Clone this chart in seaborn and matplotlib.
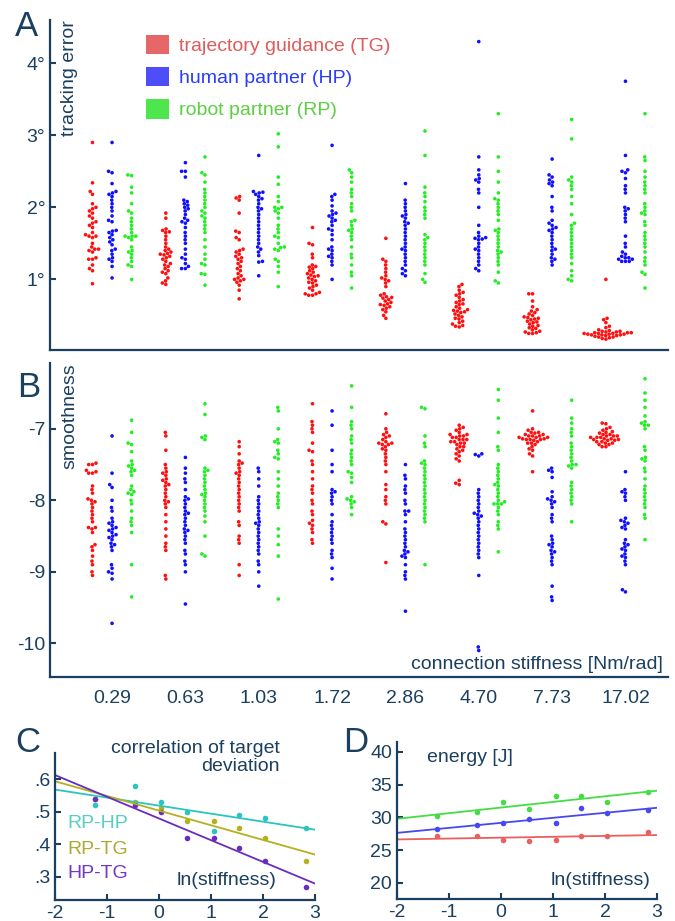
import numpy as np
import pandas as pd
import matplotlib
matplotlib.use('Agg')
import matplotlib.pyplot as plt
from matplotlib.patches import Patch
import seaborn as sns

# Figure geometry
W, H, DPI = 675, 921, 100
FONTSIZE = 14
NAVY = '#1b3f5f'

# Conditions / groups
stiffness = ['0.29', '0.63', '1.03', '1.72', '2.86', '4.70', '7.73', '17.02']
groups = ['TG', 'HP', 'RP']
group_names = ['trajectory guidance (TG)', 'human partner (HP)', 'robot partner (RP)']

# Panel A: tracking error [deg], one list per stiffness
err_tg = [
    [2.9, 2.34, 2.22, 2.18, 2.05, 2.0, 1.98, 1.95, 1.92, 1.88, 1.85, 1.8, 1.78, 1.75, 1.72, 1.65, 1.62, 1.6, 1.6, 1.58, 1.5, 1.45, 1.42, 1.42, 1.4, 1.38, 1.3, 1.28, 1.28, 1.2, 1.15, 1.12, 0.94],
    [1.92, 1.85, 1.7, 1.68, 1.66, 1.65, 1.6, 1.55, 1.5, 1.45, 1.42, 1.4, 1.38, 1.36, 1.35, 1.34, 1.32, 1.3, 1.28, 1.25, 1.22, 1.2, 1.18, 1.15, 1.12, 1.1, 1.08, 1.02, 0.98, 0.95, 0.93],
    [2.15, 2.13, 2.1, 1.92, 1.67, 1.65, 1.58, 1.55, 1.42, 1.4, 1.38, 1.35, 1.32, 1.3, 1.28, 1.25, 1.22, 1.18, 1.15, 1.12, 1.08, 1.05, 1.02, 1.0, 1.0, 0.98, 0.96, 0.92, 0.85, 0.73],
    [1.72, 1.5, 1.48, 1.35, 1.3, 1.2, 1.18, 1.17, 1.15, 1.12, 1.1, 1.08, 1.06, 1.05, 1.04, 1.02, 1.0, 0.98, 0.96, 0.95, 0.92, 0.9, 0.88, 0.85, 0.82, 0.8, 0.78, 0.78, 0.8],
    [1.57, 1.28, 1.25, 1.2, 1.15, 1.1, 1.05, 1.02, 1.0, 0.98, 0.95, 0.9, 0.8, 0.78, 0.76, 0.75, 0.74, 0.72, 0.7, 0.68, 0.66, 0.65, 0.64, 0.62, 0.6, 0.58, 0.55, 0.5, 0.46],
    [0.93, 0.9, 0.85, 0.82, 0.8, 0.78, 0.75, 0.72, 0.7, 0.68, 0.66, 0.65, 0.62, 0.6, 0.58, 0.57, 0.56, 0.55, 0.54, 0.52, 0.5, 0.48, 0.46, 0.45, 0.42, 0.4, 0.38, 0.36, 0.35, 0.34],
    [0.8, 0.8, 0.7, 0.62, 0.58, 0.56, 0.54, 0.52, 0.5, 0.48, 0.47, 0.46, 0.45, 0.44, 0.42, 0.41, 0.4, 0.38, 0.36, 0.35, 0.33, 0.32, 0.3, 0.28, 0.27, 0.26, 0.25, 0.25],
    [1.0, 0.46, 0.44, 0.4, 0.35, 0.33, 0.3, 0.29, 0.28, 0.28, 0.27, 0.27, 0.26, 0.26, 0.26, 0.25, 0.25, 0.25, 0.24, 0.24, 0.24, 0.23, 0.23, 0.23, 0.22, 0.22, 0.21, 0.2, 0.2, 0.19, 0.18, 0.17],
]
err_hp = [
    [2.9, 2.5, 2.48, 2.33, 2.22, 2.2, 2.18, 2.15, 2.1, 2.05, 2.0, 1.95, 1.88, 1.82, 1.8, 1.68, 1.67, 1.65, 1.62, 1.58, 1.55, 1.52, 1.48, 1.42, 1.4, 1.35, 1.3, 1.28, 1.25, 1.18, 1.02],
    [2.62, 2.5, 2.5, 2.42, 2.1, 2.08, 2.05, 2.03, 2.0, 1.98, 1.95, 1.9, 1.85, 1.82, 1.8, 1.78, 1.72, 1.65, 1.6, 1.55, 1.5, 1.42, 1.35, 1.3, 1.28, 1.22, 1.18, 1.15, 1.15],
    [2.72, 2.22, 2.21, 2.2, 2.18, 2.15, 2.12, 2.1, 2.05, 2.0, 1.98, 1.95, 1.9, 1.85, 1.8, 1.75, 1.7, 1.65, 1.6, 1.55, 1.5, 1.45, 1.42, 1.38, 1.33, 1.25, 1.24, 1.05],
    [2.86, 2.18, 2.15, 2.1, 2.02, 1.95, 1.92, 1.9, 1.88, 1.85, 1.82, 1.8, 1.75, 1.7, 1.68, 1.62, 1.55, 1.45, 1.42, 1.4, 1.35, 1.32, 1.3, 1.25, 1.2, 1.0],
    [2.33, 2.1, 2.05, 2.0, 1.95, 1.9, 1.88, 1.85, 1.8, 1.78, 1.75, 1.7, 1.65, 1.6, 1.55, 1.5, 1.45, 1.42, 1.4, 1.35, 1.3, 1.25, 1.2, 1.15, 1.12, 1.08, 1.05],
    [4.3, 2.7, 2.52, 2.45, 2.4, 2.38, 2.35, 2.25, 2.2, 2.0, 1.75, 1.65, 1.6, 1.58, 1.57, 1.56, 1.55, 1.5, 1.45, 1.42, 1.4, 1.35, 1.3, 1.25, 1.2, 1.15, 1.12],
    [2.67, 2.45, 2.42, 2.38, 2.35, 2.33, 2.3, 2.15, 2.0, 1.95, 1.82, 1.78, 1.75, 1.72, 1.7, 1.68, 1.65, 1.6, 1.55, 1.5, 1.45, 1.42, 1.4, 1.35, 1.3, 1.28, 1.25, 1.2],
    [3.75, 2.72, 2.52, 2.5, 2.48, 2.4, 2.3, 2.25, 2.2, 2.0, 1.98, 1.95, 1.9, 1.85, 1.8, 1.6, 1.5, 1.45, 1.38, 1.35, 1.32, 1.3, 1.3, 1.28, 1.28, 1.25, 1.25, 1.25],
]
err_rp = [
    [2.45, 2.44, 2.28, 2.2, 2.05, 1.95, 1.92, 1.85, 1.8, 1.75, 1.7, 1.65, 1.6, 1.6, 1.6, 1.58, 1.55, 1.45, 1.4, 1.38, 1.35, 1.3, 1.25, 1.2, 1.18, 1.0],
    [2.7, 2.48, 2.45, 2.35, 2.25, 2.2, 2.15, 2.1, 2.05, 2.0, 1.95, 1.92, 1.88, 1.85, 1.8, 1.75, 1.7, 1.65, 1.55, 1.45, 1.35, 1.28, 1.22, 1.2, 1.08, 1.07, 0.92],
    [3.02, 2.84, 2.42, 2.32, 2.15, 2.08, 2.0, 2.0, 1.98, 1.95, 1.92, 1.85, 1.75, 1.7, 1.65, 1.6, 1.58, 1.5, 1.45, 1.44, 1.42, 1.4, 1.28, 1.25, 1.18, 1.1, 0.9],
    [2.52, 2.48, 2.42, 2.35, 2.25, 2.2, 2.15, 2.05, 2.0, 1.95, 1.82, 1.8, 1.75, 1.7, 1.68, 1.65, 1.6, 1.55, 1.45, 1.35, 1.3, 1.2, 1.1, 1.05, 0.88],
    [3.06, 2.72, 2.28, 2.2, 2.15, 2.08, 2.0, 1.95, 1.9, 1.85, 1.62, 1.58, 1.55, 1.5, 1.45, 1.4, 1.35, 1.3, 1.25, 1.2, 1.08, 1.0, 0.96],
    [3.3, 2.7, 2.5, 2.35, 2.2, 2.12, 2.1, 2.05, 2.0, 1.95, 1.9, 1.82, 1.7, 1.68, 1.65, 1.6, 1.55, 1.5, 1.45, 1.4, 1.38, 1.35, 1.3, 1.25, 1.2, 1.1, 0.98, 0.95],
    [3.22, 2.95, 2.42, 2.38, 2.35, 2.3, 2.25, 2.15, 2.05, 1.9, 1.78, 1.75, 1.7, 1.65, 1.6, 1.55, 1.5, 1.45, 1.4, 1.35, 1.3, 1.22, 1.12, 1.05, 1.0, 0.98],
    [3.3, 2.7, 2.65, 2.5, 2.42, 2.35, 2.3, 2.25, 2.2, 2.05, 2.0, 1.95, 1.92, 1.9, 1.8, 1.75, 1.65, 1.6, 1.55, 1.5, 1.45, 1.38, 1.3, 1.25, 1.2, 1.1, 1.07, 0.88],
]

# Panel B: smoothness, one list per stiffness
smooth_tg = [
    [-7.48, -7.5, -7.5, -7.58, -7.6, -7.62, -7.62, -7.8, -7.85, -7.9, -7.98, -8.0, -8.02, -8.05, -8.1, -8.15, -8.2, -8.25, -8.3, -8.38, -8.38, -8.4, -8.45, -8.62, -8.65, -8.7, -8.78, -8.85, -8.9, -9.0, -9.05],
    [-7.05, -7.1, -7.3, -7.5, -7.55, -7.6, -7.62, -7.65, -7.7, -7.72, -7.75, -7.78, -7.8, -7.85, -7.9, -7.95, -8.0, -8.02, -8.05, -8.1, -8.2, -8.3, -8.4, -8.5, -8.6, -8.65, -8.7, -9.05, -9.1],
    [-7.18, -7.25, -7.35, -7.45, -7.48, -7.5, -7.55, -7.6, -7.62, -7.65, -7.7, -7.75, -7.8, -7.85, -7.9, -7.95, -8.0, -8.05, -8.1, -8.15, -8.3, -8.35, -8.5, -8.55, -8.6, -8.9, -9.05],
    [-6.65, -6.9, -6.95, -7.0, -7.05, -7.2, -7.3, -7.32, -7.45, -7.5, -7.6, -7.7, -7.8, -7.85, -7.9, -8.0, -8.05, -8.15, -8.2, -8.28, -8.32, -8.35, -8.4, -8.45, -8.55, -8.6],
    [-6.79, -7.0, -7.05, -7.08, -7.1, -7.12, -7.15, -7.18, -7.2, -7.2, -7.22, -7.22, -7.25, -7.28, -7.3, -7.35, -7.4, -7.45, -7.5, -7.6, -7.78, -7.85, -7.95, -8.0, -8.05, -8.3, -8.33, -8.87],
    [-6.95, -6.98, -7.0, -7.02, -7.05, -7.08, -7.08, -7.1, -7.1, -7.12, -7.12, -7.15, -7.15, -7.15, -7.18, -7.18, -7.2, -7.2, -7.22, -7.25, -7.25, -7.28, -7.3, -7.32, -7.35, -7.38, -7.42, -7.45, -7.72, -7.76, -7.78],
    [-6.75, -7.0, -7.02, -7.05, -7.05, -7.06, -7.08, -7.08, -7.1, -7.1, -7.1, -7.12, -7.12, -7.12, -7.14, -7.14, -7.15, -7.15, -7.15, -7.16, -7.18, -7.2, -7.2, -7.22, -7.25, -7.28, -7.3, -7.35, -7.38, -7.6],
    [-6.92, -6.93, -6.98, -7.0, -7.02, -7.04, -7.05, -7.06, -7.08, -7.08, -7.1, -7.1, -7.1, -7.12, -7.12, -7.12, -7.14, -7.14, -7.15, -7.15, -7.16, -7.16, -7.18, -7.18, -7.2, -7.2, -7.22, -7.22, -7.25, -7.25],
]
smooth_hp = [
    [-7.1, -7.62, -7.78, -7.82, -8.0, -8.1, -8.15, -8.25, -8.3, -8.32, -8.35, -8.38, -8.4, -8.42, -8.45, -8.48, -8.5, -8.52, -8.55, -8.6, -8.62, -8.65, -8.7, -8.9, -8.95, -9.0, -9.02, -9.1, -9.72],
    [-7.4, -7.55, -7.62, -7.7, -7.75, -7.85, -7.95, -7.98, -8.0, -8.05, -8.1, -8.15, -8.18, -8.2, -8.25, -8.3, -8.35, -8.4, -8.42, -8.45, -8.5, -8.55, -8.6, -8.7, -8.75, -8.85, -8.9, -9.0, -9.45],
    [-7.55, -7.6, -7.7, -7.8, -7.95, -8.0, -8.05, -8.1, -8.15, -8.2, -8.25, -8.3, -8.32, -8.35, -8.4, -8.45, -8.5, -8.55, -8.6, -8.65, -8.7, -8.75, -8.85, -8.9, -9.0, -9.2],
    [-6.75, -6.95, -7.3, -7.5, -7.6, -7.85, -7.88, -7.9, -7.95, -8.0, -8.05, -8.2, -8.3, -8.35, -8.4, -8.45, -8.5, -8.55, -8.6, -8.7, -8.75, -8.8, -8.95, -9.1],
    [-7.5, -7.65, -7.7, -7.8, -7.85, -7.9, -8.0, -8.05, -8.15, -8.15, -8.2, -8.3, -8.4, -8.45, -8.5, -8.55, -8.6, -8.65, -8.7, -8.72, -8.75, -8.78, -8.8, -8.9, -9.0, -9.05, -9.1, -9.55],
    [-7.35, -7.36, -7.38, -7.85, -7.9, -7.95, -8.0, -8.05, -8.1, -8.15, -8.18, -8.2, -8.22, -8.25, -8.3, -8.35, -8.4, -8.45, -8.5, -8.55, -8.6, -8.65, -8.7, -8.75, -8.8, -9.05, -10.05, -10.1],
    [-7.55, -7.58, -7.6, -7.68, -7.88, -7.95, -7.98, -8.0, -8.02, -8.05, -8.1, -8.2, -8.25, -8.3, -8.5, -8.55, -8.6, -8.62, -8.65, -8.7, -8.72, -8.75, -8.8, -8.85, -8.9, -9.2, -9.35, -9.4],
    [-7.6, -7.85, -7.88, -7.9, -7.95, -8.0, -8.25, -8.28, -8.3, -8.32, -8.35, -8.38, -8.4, -8.55, -8.6, -8.62, -8.65, -8.68, -8.7, -8.75, -8.78, -8.8, -8.85, -8.9, -9.25, -9.28],
]
smooth_rp = [
    [-6.88, -7.05, -7.2, -7.22, -7.32, -7.45, -7.5, -7.52, -7.55, -7.58, -7.6, -7.65, -7.8, -7.85, -7.88, -7.9, -7.92, -8.0, -8.05, -8.15, -8.25, -8.3, -8.35, -8.45, -8.9, -9.35],
    [-6.65, -6.8, -7.1, -7.12, -7.15, -7.55, -7.58, -7.6, -7.65, -7.7, -7.75, -7.8, -7.85, -7.9, -7.92, -7.95, -8.0, -8.05, -8.1, -8.15, -8.22, -8.3, -8.5, -8.75, -8.78],
    [-6.7, -6.75, -7.0, -7.15, -7.18, -7.2, -7.3, -7.35, -7.4, -7.42, -7.6, -7.7, -7.8, -7.9, -7.95, -8.0, -8.05, -8.1, -8.4, -8.5, -8.62, -8.78, -9.38],
    [-6.4, -6.7, -6.9, -6.95, -7.0, -7.1, -7.15, -7.2, -7.3, -7.35, -7.4, -7.45, -7.5, -7.6, -7.62, -7.68, -7.75, -7.95, -7.98, -8.0, -8.02, -8.05, -8.1, -8.2],
    [-6.7, -6.72, -7.1, -7.2, -7.25, -7.45, -7.48, -7.5, -7.55, -7.6, -7.65, -7.7, -7.75, -7.8, -7.85, -7.9, -7.95, -8.0, -8.05, -8.1, -8.15, -8.2, -8.25, -8.3, -8.9],
    [-6.45, -6.6, -6.85, -7.05, -7.25, -7.3, -7.5, -7.55, -7.6, -7.65, -7.7, -7.75, -7.78, -7.8, -7.85, -7.9, -7.95, -8.0, -8.02, -8.05, -8.05, -8.05, -8.1, -8.15, -8.2, -8.3, -8.35, -8.4, -8.72],
    [-6.6, -6.85, -6.92, -7.0, -7.05, -7.1, -7.2, -7.25, -7.3, -7.35, -7.4, -7.45, -7.5, -7.5, -7.52, -7.55, -7.75, -7.8, -7.85, -7.9, -7.95, -8.0, -8.05, -8.3],
    [-6.3, -6.5, -6.6, -6.7, -6.82, -6.9, -6.92, -6.95, -6.95, -7.0, -7.25, -7.3, -7.4, -7.42, -7.45, -7.55, -7.6, -7.7, -7.8, -7.85, -7.9, -7.95, -8.0, -8.05, -8.1, -8.2, -8.25, -8.55],
]

# Panel C: correlation of target deviation vs ln(stiffness)
ln_stiff = np.log([float(s) for s in stiffness])
corr_names = ['RP-HP', 'RP-TG', 'HP-TG']
corr_rp_hp = [0.52, 0.58, 0.531, 0.50, 0.44, 0.49, 0.48, 0.451]
corr_rp_tg = [0.54, 0.531, 0.51, 0.47, 0.47, 0.45, 0.42, 0.35]
corr_hp_tg = [0.54, 0.52, 0.50, 0.42, 0.42, 0.39, 0.35, 0.27]

# Panel D: energy [J] vs ln(stiffness)
energy_tg = [27.2, 27.2, 26.6, 26.4, 26.5, 27.2, 27.2, 27.8]
energy_hp = [28.2, 28.8, 29.1, 29.8, 29.2, 31.4, 30.6, 31.1]
energy_rp = [30.15, 30.8, 32.3, 31.3, 33.3, 33.3, 32.4, 33.9]

# Colours
swarm_colors = ['#ff1010', '#1010ff', '#22ee22']
legend_patch_colors = ['#e66767', '#4d4dfa', '#4de64d']
legend_text_colors = ['#e05a5a', '#2a3cff', '#5cd040']
corr_colors = ['#2cc4c0', '#b5b020', '#6a2cc0']
corr_text_colors = ['#55cfc2', '#b0a830', '#7038c8']
energy_colors = ['#e86060', '#4848f0', '#44dd44']


def long_frame(series_by_group):
    rows = []
    for g, series in zip(groups, series_by_group):
        for s, vals in zip(stiffness, series):
            for v in vals:
                rows.append((s, g, v))
    return pd.DataFrame(rows, columns=['stiffness', 'group', 'value'])


df_err = long_frame([err_tg, err_hp, err_rp])
df_smooth = long_frame([smooth_tg, smooth_hp, smooth_rp])

sns.set_style('ticks')
plt.rcParams['font.family'] = ['Liberation Sans', 'DejaVu Sans']
plt.rcParams.update({
    'axes.unicode_minus': False,
    'axes.edgecolor': NAVY,
    'axes.linewidth': 1.6,
    'xtick.color': NAVY,
    'ytick.color': NAVY,
    'xtick.direction': 'in',
    'ytick.direction': 'in',
    'xtick.major.size': 4,
    'ytick.major.size': 4,
    'xtick.major.width': 1.5,
    'ytick.major.width': 1.5,
    'font.size': FONTSIZE,
    'text.color': NAVY,
})

fig = plt.figure(figsize=(W / DPI, H / DPI), dpi=DPI)


def px_axes(left, top, right, bottom):
    return fig.add_axes([left / W, 1 - bottom / H, (right - left) / W, (bottom - top) / H])


def style_axes(ax):
    sns.despine(ax=ax)
    ax.tick_params(labelsize=FONTSIZE, labelcolor=NAVY)
    ax.set_xlabel('')
    ax.set_ylabel('')


# ---- Panel A
axA = px_axes(50, 20, 668, 350)
sns.swarmplot(data=df_err, x='stiffness', y='value', hue='group', order=stiffness,
              hue_order=groups, palette=swarm_colors, dodge=True, size=2.6,
              legend=False, warn_thresh=1, ax=axA)
axA.set_xlim(-0.846, 7.58)
axA.set_ylim(0.02, 4.6)
axA.set_yticks([1, 2, 3, 4], ['1°', '2°', '3°', '4°'])
axA.tick_params(axis='x', length=0, labelbottom=False)
style_axes(axA)
axA.text(0.018, 1.0, 'tracking error', rotation=90, ha='left', va='top',
         transform=axA.transAxes, fontsize=FONTSIZE, color=NAVY)
handles = [Patch(facecolor=c, edgecolor='none') for c in legend_patch_colors]
axA.legend(handles, group_names, loc='upper left', bbox_to_anchor=(0.14, 0.985),
           frameon=False, borderpad=0, handlelength=1.15, handleheight=1.15,
           handletextpad=0.55, labelspacing=0.62, fontsize=FONTSIZE,
           labelcolor=legend_text_colors)

# ---- Panel B
axB = px_axes(50, 363, 668, 677)
sns.swarmplot(data=df_smooth, x='stiffness', y='value', hue='group', order=stiffness,
              hue_order=groups, palette=swarm_colors, dodge=True, size=2.6,
              legend=False, warn_thresh=1, ax=axB)
axB.set_xlim(-0.846, 7.58)
axB.set_ylim(-10.47, -6.08)
axB.set_yticks([-10, -9, -8, -7], ['-10', '-9', '-8', '-7'])
axB.tick_params(axis='x', length=0, pad=9)
style_axes(axB)
axB.text(0.018, 1.0, 'smoothness', rotation=90, ha='left', va='top',
         transform=axB.transAxes, fontsize=FONTSIZE, color=NAVY)
axB.text(0.992, 0.012, 'connection stiffness [Nm/rad]', ha='right', va='bottom',
         transform=axB.transAxes, fontsize=FONTSIZE, color=NAVY)

# ---- Panel C
axC = px_axes(55, 753, 315, 900)
axC.set_xlim(-2, 3)
for vals, c in zip([corr_rp_hp, corr_rp_tg, corr_hp_tg], corr_colors):
    sns.regplot(x=ln_stiff, y=vals, ci=None, truncate=False, color=c, ax=axC,
                scatter_kws={'s': 16, 'linewidths': 0, 'alpha': 1},
                line_kws={'lw': 1.3})
axC.set_xlim(-2, 3)
axC.set_ylim(0.229, 0.68)
axC.set_yticks([0.3, 0.4, 0.5, 0.6], ['.3', '.4', '.5', '.6'])
axC.set_xticks([-2, -1, 0, 1, 2, 3], ['-2', '-1', '0', '1', '2', '3'])
style_axes(axC)
for name, c, y in zip(corr_names, corr_text_colors, [828, 854, 878]):
    fig.text(67 / W, 1 - y / H, name, ha='left', va='baseline', color=c, fontsize=FONTSIZE)
fig.text(276 / W, 1 - 885 / H, 'ln(stiffness)', ha='right', va='baseline', fontsize=FONTSIZE)
fig.text(280 / W, 1 - 771 / H, 'correlation of target\ndeviation', ha='right',
         va='baseline', multialignment='right', linespacing=1.05, fontsize=FONTSIZE)

# ---- Panel D
axD = px_axes(397, 742, 657, 899)
axD.set_xlim(-2, 3)
for vals, c in zip([energy_tg, energy_hp, energy_rp], energy_colors):
    sns.regplot(x=ln_stiff, y=vals, ci=None, truncate=False, color=c, ax=axD,
                scatter_kws={'s': 16, 'linewidths': 0, 'alpha': 1},
                line_kws={'lw': 1.3})
axD.set_xlim(-2, 3)
axD.set_ylim(17.55, 41.5)
axD.set_yticks([20, 25, 30, 35, 40], ['20', '25', '30', '35', '40'])
axD.set_xticks([-2, -1, 0, 1, 2, 3], ['-2', '-1', '0', '1', '2', '3'])
style_axes(axD)
fig.text(427 / W, 1 - 762 / H, 'energy [J]', ha='left', va='baseline', fontsize=FONTSIZE)
fig.text(650 / W, 1 - 885 / H, 'ln(stiffness)', ha='right', va='baseline', fontsize=FONTSIZE)

# Panel letters
for letter, x, y in [('A', 15, 36), ('B', 17, 397), ('C', 15, 752), ('D', 343, 752)]:
    fig.text(x / W, 1 - y / H, letter, ha='left', va='baseline', fontsize=25, color=NAVY)

fig.savefig('out.png', dpi=DPI)
plt.close(fig)
